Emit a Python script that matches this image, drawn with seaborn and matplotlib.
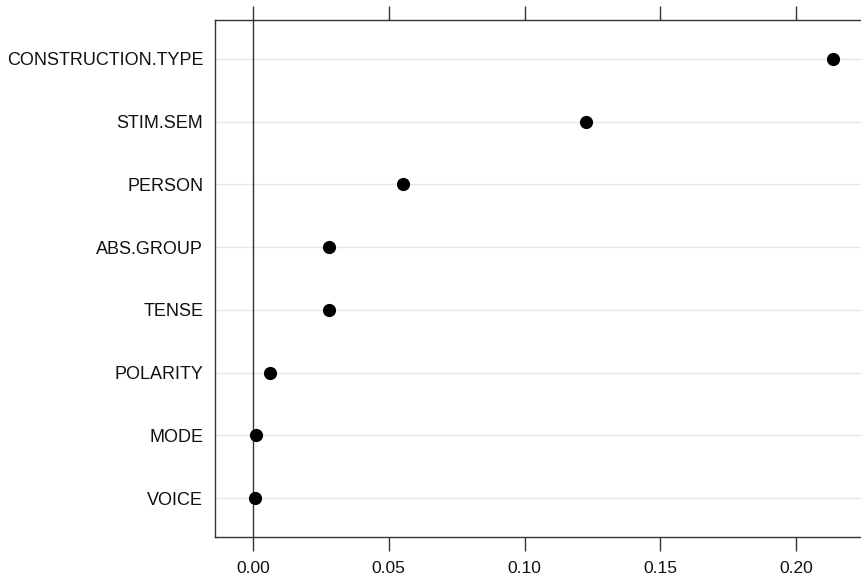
import numpy as np
import pandas as pd
import seaborn as sns
import matplotlib.pyplot as plt

sns.set_style("white")
plt.rcParams['font.family'] = ['Liberation Sans', 'DejaVu Sans']

# %% Dados
variaveis = ["CONSTRUCTION.TYPE", "STIM.SEM", "PERSON", "ABS.GROUP",
             "TENSE", "POLARITY", "MODE", "VOICE"]
importancia = [0.2136, 0.1227, 0.0552, 0.0280, 0.0280, 0.0063, 0.0010, 0.0007]
ticks_x = [0.00, 0.05, 0.10, 0.15, 0.20]

df = pd.DataFrame({"variavel": variaveis, "importancia": importancia})

# %% Gráfico
fig = plt.figure(figsize=(8.62, 5.76), dpi=100)
ax = fig.add_axes([0.2494, 0.0677, 0.7506, 0.8976])

for i in range(len(variaveis)):
    ax.axhline(i, color="#e6e6e6", lw=1, zorder=0)
ax.axvline(0, color="#333333", lw=1, zorder=1)

sns.stripplot(data=df, x="importancia", y="variavel", order=variaveis,
              jitter=False, color="black", size=9.5, ax=ax, zorder=3)

ax.set_xlim(-0.014, 0.2243)
ax.set_ylim(len(variaveis) - 1 + 0.62, -0.62)
ax.set_xticks(ticks_x)
ax.set_xticklabels([f"{t:.2f}" for t in ticks_x])
ax.set_xlabel("")
ax.set_ylabel("")

ax.tick_params(axis="x", which="both", top=True, bottom=True, labeltop=False,
               direction="out", length=10, width=1, color="#333333",
               labelsize=12.5, labelcolor="#111111", pad=7)
ax.tick_params(axis="y", left=False, labelsize=13, labelcolor="#111111", pad=5)
for s in ["left", "top", "bottom"]:
    ax.spines[s].set_color("#333333")
    ax.spines[s].set_linewidth(1)
ax.spines["right"].set_visible(False)

fig.savefig("out.png", dpi=100)
